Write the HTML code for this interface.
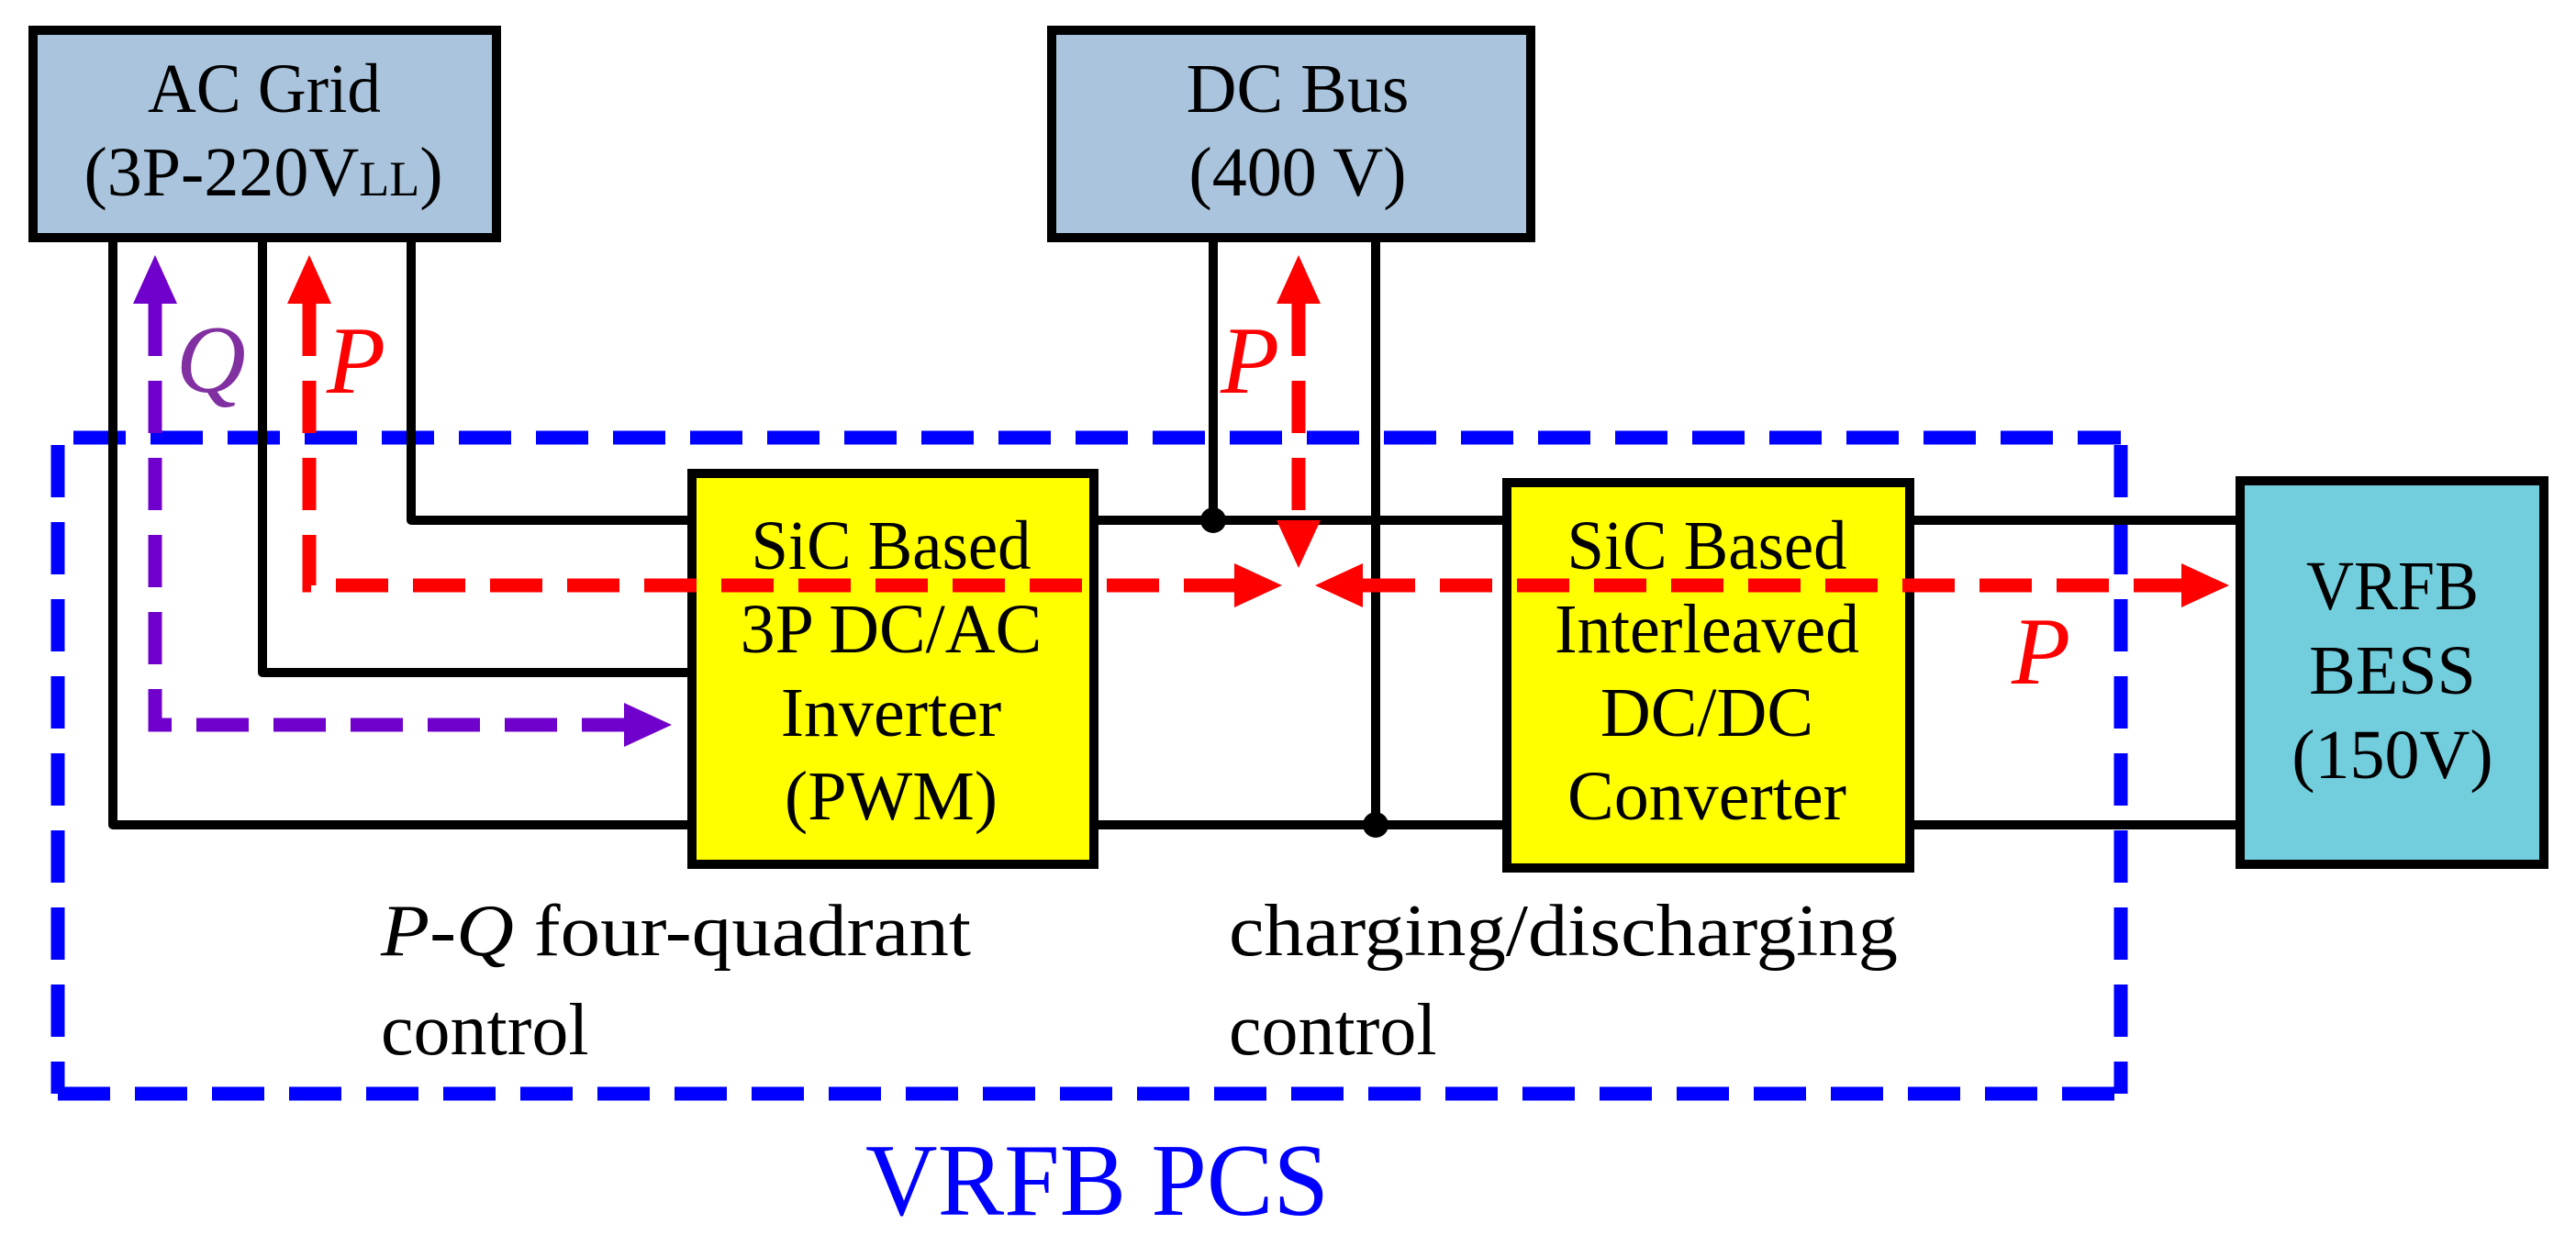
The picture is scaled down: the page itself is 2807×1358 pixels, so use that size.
<!DOCTYPE html>
<html><head><meta charset="utf-8"><style>html,body{margin:0;padding:0;background:#fff}svg{display:block}</style></head>
<body>
<svg width="2807" height="1358" viewBox="0 0 2807 1358" xmlns="http://www.w3.org/2000/svg" font-family="'Liberation Serif', serif">
<!-- blue dashed PCS border -->
<g fill="none" stroke="#0000FF" stroke-width="15" stroke-dasharray="57 27">
<line x1="80" y1="477" x2="2311" y2="477"/>
<line x1="63" y1="485" x2="63" y2="1192"/>
<line x1="2311" y1="485" x2="2311" y2="1192"/>
<line x1="63" y1="1192" x2="2311" y2="1192"/>
</g>
<!-- wires -->
<g fill="none" stroke="#000" stroke-width="10" stroke-linejoin="round">
<polyline points="123,263 123,899 750,899"/>
<polyline points="286,263 286,733 750,733"/>
<polyline points="448,263 448,567 750,567"/>
<line x1="1197" y1="567" x2="1637" y2="567"/>
<line x1="1197" y1="899" x2="1637" y2="899"/>
<line x1="1322" y1="263" x2="1322" y2="567"/>
<line x1="1499" y1="263" x2="1499" y2="899"/>
<line x1="2086" y1="567" x2="2436" y2="567"/>
<line x1="2086" y1="899" x2="2436" y2="899"/>
</g>
<circle cx="1322" cy="567" r="14" fill="#000"/>
<circle cx="1499" cy="899" r="14" fill="#000"/>
<!-- boxes -->
<g stroke="#000" stroke-width="10">
<rect x="36" y="33" width="505" height="226" fill="#A9C4DC"/>
<rect x="1146" y="33" width="522" height="226" fill="#A9C4DC"/>
<rect x="754" y="516" width="438" height="426" fill="#FFFF00"/>
<rect x="1642" y="526" width="439" height="420" fill="#FFFF00"/>
<rect x="2441" y="524" width="331" height="418" fill="#72CDDD"/>
</g>
<!-- box text -->
<g font-size="76" fill="#000" text-anchor="middle">
<text x="288" y="122" textLength="254" lengthAdjust="spacingAndGlyphs">AC Grid</text>
<text x="287" y="213">(3P-220V<tspan font-size="54">LL</tspan>)</text>
<text x="1414" y="122">DC Bus</text>
<text x="1414" y="213">(400 V)</text>
<text x="971" y="620" textLength="305" lengthAdjust="spacingAndGlyphs">SiC Based</text>
<text x="971" y="711">3P DC/AC</text>
<text x="971" y="802">Inverter</text>
<text x="971" y="893">(PWM)</text>
<text x="1860" y="620" textLength="305" lengthAdjust="spacingAndGlyphs">SiC Based</text>
<text x="1860" y="711" textLength="332" lengthAdjust="spacingAndGlyphs">Interleaved</text>
<text x="1860" y="802">DC/DC</text>
<text x="1860" y="893">Converter</text>
<text x="2607" y="664" textLength="188" lengthAdjust="spacingAndGlyphs">VRFB</text>
<text x="2607" y="756">BESS</text>
<text x="2607" y="848">(150V)</text>
</g>
<!-- bottom labels -->
<g font-size="80" fill="#000">
<text x="415" y="1041" textLength="643" lengthAdjust="spacingAndGlyphs"><tspan font-style="italic">P</tspan>-<tspan font-style="italic">Q</tspan> four-quadrant</text>
<text x="415" y="1149">control</text>
<text x="1339" y="1041" textLength="729" lengthAdjust="spacingAndGlyphs">charging/discharging</text>
<text x="1339" y="1149">control</text>
</g>
<text x="943" y="1324" font-size="112" fill="#0000FF" textLength="505" lengthAdjust="spacingAndGlyphs">VRFB PCS</text>
<!-- red arrows -->
<g fill="none" stroke="#FF0000" stroke-width="15" stroke-dasharray="57 27">
<polyline points="337,331 337,638 1345,638"/>
<line x1="1415" y1="331" x2="1415" y2="567"/>
<line x1="1485" y1="638" x2="2377" y2="638"/>
</g>
<g fill="#FF0000">
<polygon points="337,278 313,331 361,331"/>
<polygon points="1415,278 1391,331 1439,331"/>
<polygon points="1415,619 1391,567 1439,567"/>
<polygon points="1397,638 1345,614 1345,662"/>
<polygon points="1433,638 1485,614 1485,662"/>
<polygon points="2429,638 2377,614 2377,662"/>
</g>
<!-- purple arrow -->
<g fill="none" stroke="#7000CC" stroke-width="15" stroke-dasharray="57 27">
<polyline points="169,331 169,790 680,790"/>
</g>
<polygon points="169,278 145,331 193,331" fill="#7000CC"/>
<polygon points="732,790 680,766 680,814" fill="#7000CC"/>
<!-- italic labels -->
<g font-style="italic" font-size="105">
<text x="192" y="427" fill="#8030A0">Q</text>
<text x="356" y="428" fill="#FF0000">P</text>
<text x="1330" y="428" fill="#FF0000">P</text>
<text x="2192" y="745" fill="#FF0000">P</text>
</g>
</svg>
</body></html>
